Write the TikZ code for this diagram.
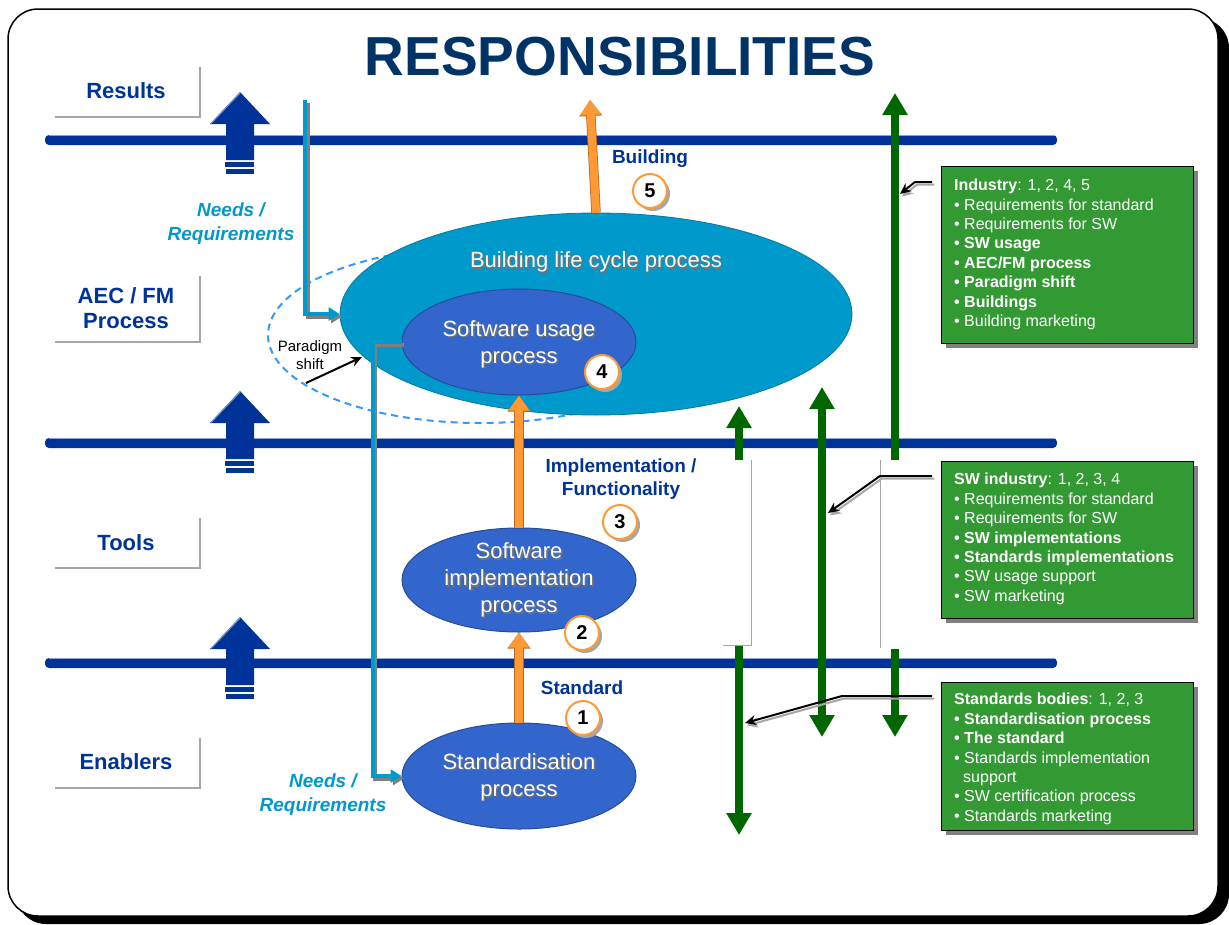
\documentclass[tikz,border=0pt]{standalone}
\usepackage{fontspec}
\setmainfont{Liberation Sans}
\usetikzlibrary{arrows.meta,shapes.geometric}
\definecolor{navy}{RGB}{0,51,153}
\definecolor{titlec}{RGB}{0,51,102}
\definecolor{cyanl}{RGB}{0,153,204}
\definecolor{ellbig}{RGB}{0,153,204}
\definecolor{ellblue}{RGB}{51,102,204}
\definecolor{orng}{RGB}{255,153,51}
\definecolor{grn}{RGB}{0,102,0}
\definecolor{boxg}{RGB}{51,153,51}
\definecolor{dashc}{RGB}{51,153,255}
\newcommand\fsz[2]{\fontsize{#1pt}{#2pt}\selectfont}
\begin{document}
\begin{tikzpicture}[x=1pt,y=-1pt,
  lbl/.style={font=\fsz{22}{25}\bfseries, text=navy, align=center},
  smlbl/.style={font=\fsz{19}{23}\bfseries, text=navy, align=center},
  needs/.style={font=\fsz{19}{24}\bfseries\itshape, text=cyanl, align=center},
  lblline/.style={draw=gray!70, line width=1.2pt},
  ellnode/.style={ellipse, inner sep=0pt},
  elltext/.style={font=\fsz{22}{27}, text=white, align=center},
  elltextsh/.style={font=\fsz{22}{27}, text=black!55, align=center},
  numc/.style={circle, draw=orng, line width=2pt, fill=white, minimum size=34pt, inner sep=0pt, font=\fsz{20}{22}\bfseries},
  oarrow/.style={draw=orng, line width=8pt, -{Triangle[width=20pt,length=15pt]}},
  carrow/.style={draw=cyanl, line width=4pt, -{Triangle[width=13pt,length=11pt]}},
  cshadow/.style={draw=gray, line width=4pt, -{Triangle[width=13pt,length=11pt]}},
  garrow/.style={draw=grn, line width=8pt, -{Triangle[width=24pt,length=22pt]}},
  garrowb/.style={draw=grn, line width=8pt, {Triangle[width=24pt,length=22pt]}-{Triangle[width=24pt,length=22pt]}},
  callout/.style={draw=black, line width=2pt, -{Stealth[length=11pt,width=10pt]}},
  calloutsh/.style={draw=gray!70, line width=2pt, -{Stealth[length=11pt,width=10pt]}},
  gbox/.style={fill=boxg, draw=black, line width=1pt},
  btext/.style={font=\fsz{16}{19.4}, text=white, align=left, inner sep=0pt, anchor=north west},
  gapline/.style={draw=gray!70, line width=1pt}
]
\useasboundingbox (0,0) rectangle (1229,924);
% frame
\fill[black, rounded corners=30pt] (16,18) rectangle (1229,924);
\draw[fill=white, line width=1.5pt, rounded corners=30pt] (8,9) rectangle (1218,916);

% title
\node[font=\fsz{55}{60}\bfseries, text=titlec] (title) at (620,57) {RESPONSIBILITIES};

% horizontal bars
\foreach \yy in {140,443,663}{
  \fill[navy, rounded corners=4pt] (45,\yy-5) rectangle (1057,\yy+5);
  \draw[navy!45, line width=1pt] (49,\yy-4.5) -- (1054,\yy-4.5);
}

% left labels
\node[lbl] (lres) at (126,91) {Results};
\node[lbl] (laec) at (126,308) {AEC / FM\\Process};
\node[lbl] (ltools) at (126,543) {Tools};
\node[lbl] (lenab) at (126,762) {Enablers};
\draw[lblline] (55,117) -- (200,117) -- (200,67);
\draw[lblline] (55,342) -- (200,342) -- (200,276);
\draw[lblline] (55,568) -- (200,568) -- (200,518);
\draw[lblline] (55,788) -- (200,788) -- (200,738);

% big navy arrows
\foreach \t in {92,391,617}{
  \fill[navy] (240,\t) -- (270,\t+32) -- (254,\t+32) -- (254,\t+68) -- (226,\t+68) -- (226,\t+32) -- (210,\t+32) -- cycle;
  \draw[navy!50, line width=1pt] (211,\t+31.5) -- (240,\t+1) ;
  \fill[navy] (225,\t+70) rectangle (254,\t+75);
  \fill[navy] (226,\t+77) rectangle (254,\t+82);
}

% dashed paradigm ellipse
\draw[dashc, line width=2pt, dash pattern=on 7pt off 5pt] (480,335) ellipse [x radius=212pt, y radius=88pt];

% ellipses
\node[ellnode, fill=ellbig, draw=ellbig!80!black, line width=0.8pt, minimum width=512pt, minimum height=202pt] (big) at (596,314) {};
\node[elltextsh] at (597.5,263.5) {Building life cycle process};
\node[elltext] (bigt) at (596,262) {Building life cycle process};
\node[ellnode, fill=ellblue, draw=ellblue!75!black, line width=1pt, minimum width=234pt, minimum height=106pt] (usage) at (519,342) {};
\node[elltextsh] at (520.5,345.5) {Software usage\\process};
\node[elltext] (usaget) at (519,344) {Software usage\\process};
\node[ellnode, fill=ellblue, draw=ellblue!75!black, line width=1pt, minimum width=234pt, minimum height=104pt] (impl) at (519,580) {};
\node[elltextsh] at (520.5,581.5) {Software\\implementation\\process};
\node[elltext] (implt) at (519,580) {Software\\implementation\\process};
\node[ellnode, fill=ellblue, draw=ellblue!75!black, line width=1pt, minimum width=234pt, minimum height=106pt] (std) at (519,776) {};
\node[elltextsh] at (520.5,778.5) {Standardisation\\process};
\node[elltext] (stdt) at (519,777) {Standardisation\\process};

% paradigm shift
\node[font=\fsz{15}{18}, align=center] (pst) at (310,355) {Paradigm\\shift};
\coordinate (psa) at (306,383);
\coordinate (psb) at (362,357);
\draw[black, line width=2pt, -{Stealth[length=11pt,width=10pt]}] (psa) -- (psb);

% cyan needs arrows
\coordinate (nr1) at (305,100);
\draw[cshadow, transform canvas={shift={(2.5pt,-2.5pt)}}] (nr1) |- (big.west);
\draw[carrow] (nr1) |- (big.west);
\draw[cshadow, transform canvas={shift={(2.5pt,-2.5pt)}}] (usage.west) -- ++(-29,0) |- (std.west);
\draw[carrow] (usage.west) -- ++(-29,0) |- (std.west);
\node[needs] (nrt1) at (231,224) {Needs /\\Requirements};
\node[needs] (nrt2) at (323,795) {Needs /\\Requirements};

% orange arrows
\coordinate (bldtip) at (590,100);
\draw[draw=orng!70!black, line width=9.5pt, -{Triangle[width=22pt,length=16pt]}] (std.north) -- (impl.south);
\draw[oarrow] (std.north) -- (impl.south);
\draw[draw=orng!70!black, line width=9.5pt, -{Triangle[width=22pt,length=16pt]}] (impl.north) -- (usage.south);
\draw[oarrow] (impl.north) -- (usage.south);
\draw[draw=orng!70!black, line width=9.5pt, -{Triangle[width=22pt,length=16pt]}] (big.north) -- (bldtip);
\draw[oarrow] (big.north) -- (bldtip);

% labels along the chain
\node[smlbl] (bldl) at (650,159) {Building};
\node[smlbl] (impll) at (621,479) {Implementation /\\Functionality};
\node[smlbl] (stdl) at (582,688) {Standard};

% number circles
\foreach \nm/\cx/\cy/\n in {c1/583/718/1, c2/582/633/2, c3/620/522/3, c4/602/372/4, c5/650/191/5}{
  \fill[gray!70] (\cx+3,\cy+3) circle (17pt);
  \node[numc] (\nm) at (\cx,\cy) {\n};
}

% green arrows
\coordinate (gA1) at (739,460); \coordinate (gA1t) at (739,406);
\coordinate (gA2) at (739,646); \coordinate (gA2t) at (739,835);
\coordinate (gB1) at (822,387); \coordinate (gB2) at (822,737);
\coordinate (gC1) at (895,460); \coordinate (gC1t) at (895,93);
\coordinate (gC2) at (895,649); \coordinate (gC2t) at (895,737);
\draw[garrow] (gA1) -- (gA1t);
\draw[garrow] (gA2) -- (gA2t);
\draw[garrowb] (gB1) -- (gB2);
\draw[garrow] (gC1) -- (gC1t);
\draw[garrow] (gC2) -- (gC2t);
\draw[gapline] (751,460) -- (751,645) -- (723,645);
\draw[gapline] (880,460) -- (880,648);

% green boxes
\fill[gray] (946,171) rectangle (1198,348);
\node[gbox, minimum width=252pt, minimum height=177pt, anchor=north west] (ind) at (941,166) {};
\node[btext] (indt) at (954,179) {\textbf{Industry}: 1, 2, 4, 5\\
• Requirements for standard\\
• Requirements for SW\\
\textbf{• SW usage}\\
\textbf{• AEC/FM process}\\
\textbf{• Paradigm shift}\\
\textbf{• Buildings}\\
• Building marketing};

\fill[gray] (946,466) rectangle (1198,623);
\node[gbox, minimum width=252pt, minimum height=157pt, anchor=north west] (swi) at (941,461) {};
\node[btext] (swit) at (954,473) {\textbf{SW industry}: 1, 2, 3, 4\\
• Requirements for standard\\
• Requirements for SW\\
\textbf{• SW implementations}\\
\textbf{• Standards implementations}\\
• SW usage support\\
• SW marketing};

\fill[gray] (946,687) rectangle (1198,835);
\node[gbox, minimum width=252pt, minimum height=148pt, anchor=north west] (sbo) at (941,682) {};
\node[btext] (sbot) at (954,693) {\textbf{Standards bodies}: 1, 2, 3\\
\textbf{• Standardisation process}\\
\textbf{• The standard}\\
• Standards implementation\\
\hspace*{9pt}support\\
• SW certification process\\
• Standards marketing};

% callouts
\coordinate (k1) at (932,182); \coordinate (k1t) at (900,194);
\coordinate (k2) at (932,476); \coordinate (k2t) at (828,513);
\coordinate (k3) at (932,696); \coordinate (k3t) at (745,723);
\begin{scope}[transform canvas={shift={(2pt,-2.5pt)}}]
\draw[calloutsh] (k1) -- (915,182) -- (k1t);
\draw[calloutsh] (k2) -- (880,476) -- (k2t);
\draw[calloutsh] (k3) -- (842,696) -- (k3t);
\end{scope}
\draw[callout] (k1) -- (915,182) -- (k1t);
\draw[callout] (k2) -- (880,476) -- (k2t);
\draw[callout] (k3) -- (842,696) -- (k3t);
\end{tikzpicture}
\end{document}
